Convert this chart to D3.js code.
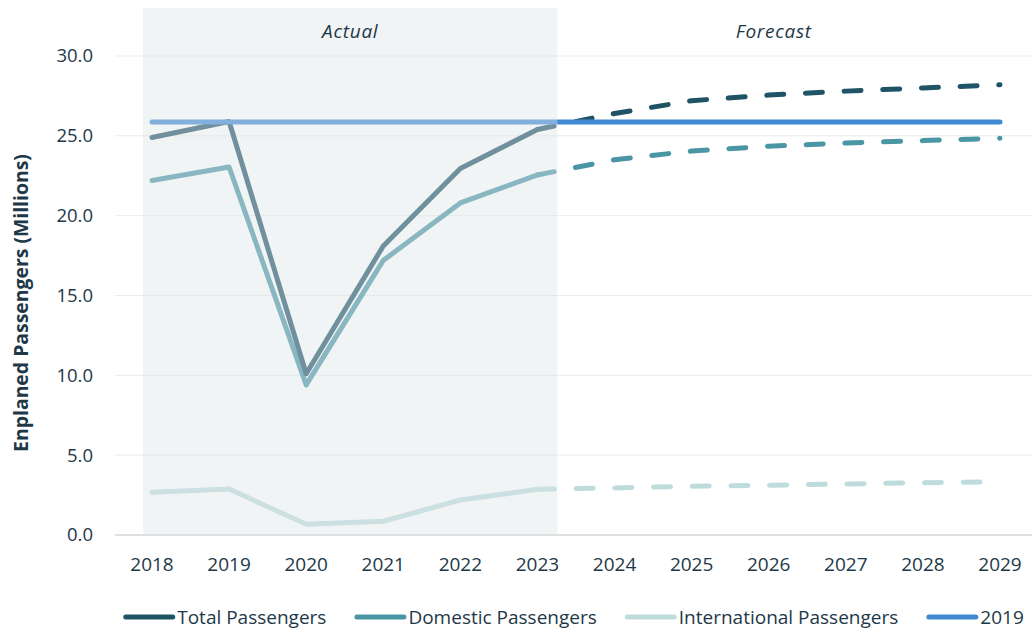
<!DOCTYPE html>
<html>
<head>
<meta charset="utf-8">
<script src="https://cdn.jsdelivr.net/npm/d3@7"></script>
<style>
  body { margin: 0; background: #fff; }
  text { font-family: "Open Sans", sans-serif; fill: #1e3848; }
</style>
</head>
<body>
<div id="chart"></div>
<script>
// Years on the axis
const years = [2018, 2019, 2020, 2021, 2022, 2023, 2024, 2025, 2026, 2027, 2028, 2029];
const yTicks = [0, 5, 10, 15, 20, 25, 30];

// Actual values (2018-2023)
const actualYears = [2018, 2019, 2020, 2021, 2022, 2023];
const totalActual = [24.9, 25.9, 10.1, 18.1, 22.95, 25.4];
const domesticActual = [22.2, 23.05, 9.4, 17.2, 20.8, 22.55];
const intlActual = [2.67, 2.88, 0.67, 0.86, 2.19, 2.86];

// Forecast values (2023-2029)
const forecastYears = [2023, 2024, 2025, 2026, 2027, 2028, 2029];
const totalForecast = [25.4, 26.4, 27.2, 27.55, 27.8, 28.0, 28.2];
const domesticForecast = [22.55, 23.5, 24.05, 24.35, 24.55, 24.7, 24.85];
const intlForecast = [2.86, 2.95, 3.05, 3.12, 3.2, 3.27, 3.33];

// 2019 baseline
const baseline2019 = 25.86;

const seriesNames = ["Total Passengers", "Domestic Passengers", "International Passengers", "2019"];
const seriesColors = ["#1f5366", "#4a96a5", "#bfdcdc", "#4189d3"];

const w = 1032, h = 632;
const svg = d3.select("#chart").append("svg").attr("width", w).attr("height", h);

const x = d3.scaleLinear().domain([2018, 2029]).range([152, 1000]);
const y = d3.scaleLinear().domain([0, 30]).range([535, 56]);

// gridlines
svg.append("g")
  .selectAll("line")
  .data(yTicks.slice(1))
  .enter()
  .append("line")
  .attr("x1", 115).attr("x2", w)
  .attr("y1", d => y(d)).attr("y2", d => y(d))
  .attr("stroke", "#ebebeb").attr("stroke-width", 1);

// x axis line
svg.append("line")
  .attr("x1", 115).attr("x2", w)
  .attr("y1", y(0)).attr("y2", y(0))
  .attr("stroke", "#d4d4d4").attr("stroke-width", 1.5);

// y tick labels
svg.append("g")
  .selectAll("text")
  .data(yTicks)
  .enter()
  .append("text")
  .attr("x", 93)
  .attr("y", d => y(d))
  .attr("dy", "0.35em")
  .attr("text-anchor", "end")
  .style("font-size", "18.5px")
  .text(d => d3.format(".1f")(d));

// x tick labels
svg.append("g")
  .selectAll("text")
  .data(years)
  .enter()
  .append("text")
  .attr("x", d => x(d))
  .attr("y", 571)
  .attr("text-anchor", "middle")
  .style("font-size", "19px")
  .text(d => d);

// y axis title
svg.append("text")
  .attr("transform", "translate(28, 303) rotate(-90)")
  .attr("text-anchor", "middle")
  .style("font-size", "19.4px")
  .style("font-weight", "bold")
  .text("Enplaned Passengers (Millions)");

const line = d3.line().x(d => x(d[0])).y(d => y(d[1]));

function drawSeries(xs, vs, color, dashed) {
  svg.append("path")
    .datum(xs.map((yr, i) => [yr, vs[i]]))
    .attr("d", line)
    .attr("fill", "none")
    .attr("stroke", color)
    .attr("stroke-width", 5)
    .attr("stroke-linecap", "round")
    .attr("stroke-linejoin", "round")
    .attr("stroke-dasharray", dashed ? "17 21.7" : null);
}

drawSeries(actualYears, intlActual, seriesColors[2], false);
drawSeries(forecastYears, intlForecast, seriesColors[2], true);
drawSeries(actualYears, domesticActual, seriesColors[1], false);
drawSeries(forecastYears, domesticForecast, seriesColors[1], true);
drawSeries(actualYears, totalActual, seriesColors[0], false);
drawSeries(forecastYears, totalForecast, seriesColors[0], true);
drawSeries([2018, 2029], [baseline2019, baseline2019], seriesColors[3], false);

// "Actual" shaded overlay
const shadeX0 = x(2018) - 9, shadeX1 = x(2023) + 20;
svg.append("rect")
  .attr("x", shadeX0).attr("y", 8)
  .attr("width", shadeX1 - shadeX0)
  .attr("height", y(0) - 8)
  .attr("fill", "rgb(221,228,231)")
  .attr("fill-opacity", 0.42);

svg.append("text")
  .attr("x", (shadeX0 + shadeX1) / 2).attr("y", 38)
  .attr("text-anchor", "middle")
  .style("font-size", "19px").style("font-style", "italic")
  .style("letter-spacing", "0.7px")
  .text("Actual");

svg.append("text")
  .attr("x", (shadeX1 + 990) / 2).attr("y", 38)
  .attr("text-anchor", "middle")
  .style("font-size", "19px").style("font-style", "italic")
  .style("letter-spacing", "0.7px")
  .text("Forecast");

// legend
const legend = svg.append("g");
let lx = 0;
seriesNames.forEach((name, i) => {
  const g = legend.append("g").attr("transform", `translate(${lx},0)`);
  g.append("line")
    .attr("x1", 2.5).attr("x2", 49.5)
    .attr("y1", 0).attr("y2", 0)
    .attr("stroke", seriesColors[i]).attr("stroke-width", 5)
    .attr("stroke-linecap", "round");
  const t = g.append("text")
    .attr("x", 54).attr("y", 0).attr("dy", "0.35em")
    .style("font-size", "19px")
    .text(name);
  lx += 54 + t.node().getComputedTextLength() + 28;
});
const legendW = lx - 28;
legend.attr("transform", `translate(${(115 + w) / 2 - legendW / 2}, 617)`);
</script>
</body>
</html>
